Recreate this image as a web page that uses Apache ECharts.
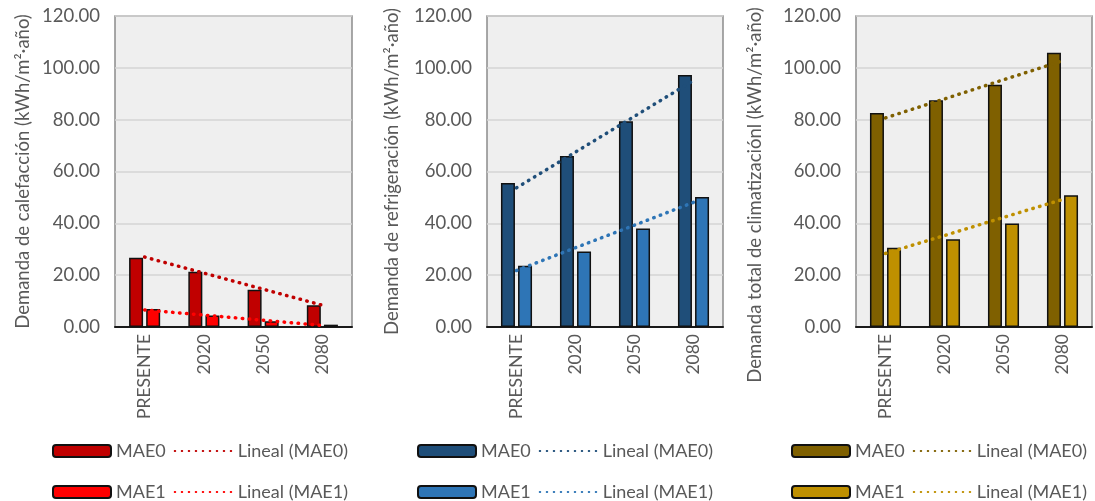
<!DOCTYPE html>
<html>
<head>
<meta charset="utf-8">
<script src="https://cdn.jsdelivr.net/npm/echarts@6/dist/echarts.min.js"></script>
<style>
html,body{margin:0;padding:0;background:#fff;}
#c{width:1095px;height:501px;}
</style>
</head>
<body>
<div id="c"></div>
<script>
var categories = ['PRESENTE', '2020', '2050', '2080'];
var yTicks = { min: 0, max: 120, interval: 20 };

var calefMAE0 = [26.7, 21.3, 14.4, 8.4];
var calefMAE1 = [6.9, 4.4, 2.2, 0.9];
var calefTrend0 = [27.0, 20.8, 14.6, 8.4];
var calefTrend1 = [6.6, 4.6, 2.6, 0.6];

var refrMAE0 = [55.6, 66.0, 79.4, 97.2];
var refrMAE1 = [23.6, 29.1, 38.0, 50.2];
var refrTrend0 = [53.7, 67.5, 81.3, 95.1];
var refrTrend1 = [21.8, 30.6, 39.3, 48.1];

var climMAE0 = [82.6, 87.5, 93.5, 105.8];
var climMAE1 = [30.6, 33.9, 39.9, 50.8];
var climTrend0 = [80.7, 88.0, 95.4, 102.7];
var climTrend1 = [28.4, 35.3, 42.3, 49.2];

var axisTitles = [
  'Demanda de calefacción (kWh/m²·año)',
  'Demanda de refrigeración (kWh/m²·año)',
  'Demanda total de climatizaciónl (kWh/m²·año)'
];
var barNames = ['MAE0', 'MAE1'];
var trendNames = ['Lineal (MAE0)', 'Lineal (MAE1)'];

var panels = [
  { bars: [calefMAE0, calefMAE1], trends: [calefTrend0, calefTrend1], colors: ['#C00000', '#FF0000'] },
  { bars: [refrMAE0, refrMAE1], trends: [refrTrend0, refrTrend1], colors: ['#1F4E79', '#2E75B6'] },
  { bars: [climMAE0, climMAE1], trends: [climTrend0, climTrend1], colors: ['#7F6000', '#BF9000'] }
];

var FONT = 'Lato, "Open Sans", sans-serif';
var TXT = '#595959';
var gridPos = [
  { left: 115, width: 237 },
  { left: 487, width: 236 },
  { left: 856, width: 236 }
];
var nameGaps = [82, 85, 91];
var namePads = [[0, 0, 0, 0], [0, 0, 0, 0], [0, 47, 0, 0]];
var legendLeft = [52, 417, 791];

var grids = [], xAxes = [], yAxes = [], series = [], legends = [];
panels.forEach(function (p, i) {
  grids.push({
    left: gridPos[i].left, width: gridPos[i].width, top: 16, height: 311,
    outerBoundsMode: 'none', containLabel: false,
    show: true, backgroundColor: '#efefef', borderColor: '#8c8c8c', borderWidth: 1.5
  });
  xAxes.push({
    type: 'category', gridIndex: i, data: categories,
    axisLine: { show: true, lineStyle: { color: '#1a1a1a', width: 2 } },
    axisTick: { show: false },
    axisLabel: { rotate: 90, color: TXT, fontFamily: FONT, fontSize: 17.5, margin: 7 }
  });
  yAxes.push({
    type: 'value', gridIndex: i, min: yTicks.min, max: yTicks.max, interval: yTicks.interval,
    name: axisTitles[i], nameLocation: 'middle', nameGap: nameGaps[i],
    nameTextStyle: { color: TXT, fontFamily: FONT, fontSize: 18.5, padding: namePads[i] },
    axisLine: { show: false }, axisTick: { show: false },
    axisLabel: { color: TXT, fontFamily: FONT, fontSize: 18.5, margin: 15,
      formatter: function (v) { return v.toFixed(2); } },
    splitLine: { show: true, lineStyle: { color: '#d4d4d4', width: 1.5 } }
  });
  var prefix = 'p' + i + '|';
  p.bars.forEach(function (vals, k) {
    series.push({
      name: prefix + barNames[k], type: 'bar', xAxisIndex: i, yAxisIndex: i,
      data: vals, barWidth: 14, barGap: '22%',
      itemStyle: { color: p.colors[k], borderColor: '#111', borderWidth: 1.5 }
    });
  });
  p.trends.forEach(function (vals, k) {
    series.push({
      name: prefix + trendNames[k], type: 'line', xAxisIndex: i, yAxisIndex: i,
      data: vals, symbol: 'none', z: 5,
      lineStyle: { color: p.colors[k], width: 3.5, type: [0.5, 6.5], cap: 'round' },
      itemStyle: { color: p.colors[k] }
    });
  });
  for (var k = 0; k < 2; k++) {
    legends.push({
      left: legendLeft[i], top: k === 0 ? 442 : 483, width: 330, padding: 0,
      orient: 'horizontal', itemWidth: 58, itemHeight: 12, itemGap: 8,
      selectedMode: false,
      data: [
        { name: prefix + barNames[k] },
        { name: prefix + trendNames[k], itemStyle: { color: 'rgba(0,0,0,0)', borderWidth: 0, opacity: 0 } }
      ],
      formatter: function (n) { return n.split('|')[1]; },
      textStyle: { color: TXT, fontFamily: FONT, fontSize: 18 }
    });
  }
});

var chart = echarts.init(document.getElementById('c'), null, { renderer: 'canvas' });
chart.setOption({
  animation: false,
  backgroundColor: '#ffffff',
  grid: grids, xAxis: xAxes, yAxis: yAxes, legend: legends, series: series
});
</script>
</body>
</html>
